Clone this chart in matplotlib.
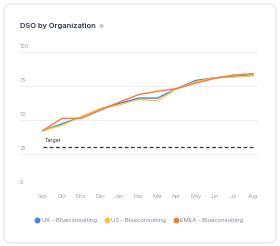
import matplotlib
matplotlib.use('Agg')
import matplotlib.pyplot as plt
from matplotlib.patches import FancyBboxPatch
from matplotlib.lines import Line2D

plt.rcParams['font.family'] = ['Inter', 'DejaVu Sans']

months = ['Sep', 'Oct', 'Nov', 'Dec', 'Jan', 'Feb', 'Mar', 'Apr', 'May', 'Jun', 'Jul', 'Aug']
uk = [42, 47, 52, 58, 62, 66, 66, 73, 79, 81, 82, 83]
us = [42, 46, 52, 58, 61, 65, 64, 73, 78, 81, 81.5, 82.5]
emea = [42, 51, 51, 57, 63, 68.5, 71, 73, 77, 80.5, 83, 84]
target = 30
yticks = [0, 25, 50, 75, 100]

series = [('UK - Blueconsulting', uk, '#3b82f6'),
          ('US - Blueconsulting', us, '#fcc43c'),
          ('EMEA - Blueconsulting', emea, '#f67a35')]

W, H = 280, 246
fig = plt.figure(figsize=(W / 100, H / 100), dpi=100)

card = FancyBboxPatch((4 / W, 3 / H), 272 / W, 239 / H,
                      boxstyle='round,pad=0,rounding_size=0.025',
                      transform=fig.transFigure, facecolor='white',
                      edgecolor='#e2e4e8', linewidth=0.8, zorder=-10)
fig.patches.append(card)

fig.text(20 / W, 1 - 26 / H, 'DSO by Organization', fontsize=5.4,
         fontweight='semibold', color='#2b3445', va='center', ha='left')
fig.text(101 / W, 1 - 26 / H, '\u25cf', fontsize=4, color='#c5c9d0',
         va='center', ha='center')

ax = fig.add_axes([20 / W, 1 - 187.5 / H, 238 / W, 135.5 / H])
ax.set_facecolor('none')
ax.set_zorder(5)
x = list(range(len(months)))

for label, vals, col in series:
    ax.plot(x, vals, color=col, linewidth=1.0, clip_on=False)

ax.plot([x[0], x[-1]], [target, target], color='#2b3445', linewidth=0.9,
        linestyle=(0, (3, 2)))
ax.text(x[0] + 0.1, target + 2.5, 'Target', fontsize=3.8, color='#2b3445',
        ha='left', va='bottom')

ax.set_xlim(-1.2, 11.26)
ax.set_ylim(0, 100)
ax.set_yticks(yticks)
ax.grid(axis='y', color='#eef0f3', linewidth=0.7)
ax.set_axisbelow(True)
ax.set_xticks(x)
ax.set_xticklabels(months)
ax.tick_params(axis='x', length=0, pad=4.5, labelsize=3.9, labelcolor='#9aa1ad')
ax.tick_params(axis='y', length=0, labelleft=False)
for v in yticks:
    ax.text(-1.2, v + 2, str(v), fontsize=3.9, color='#9aa1ad',
            ha='left', va='bottom')
for s in ax.spines.values():
    s.set_visible(False)

handles = [Line2D([], [], marker='o', linestyle='none', markersize=3.2,
                  markerfacecolor=c, markeredgecolor=c, label=l)
           for l, _, c in series]
fig.legend(handles=handles, loc='center', bbox_to_anchor=(139 / W, 1 - 220 / H),
           ncol=3, frameon=False, fontsize=4.2, labelcolor='#7b8391',
           handletextpad=0.25, columnspacing=1.3, handlelength=0.9)

fig.savefig('out.png', dpi=100)
